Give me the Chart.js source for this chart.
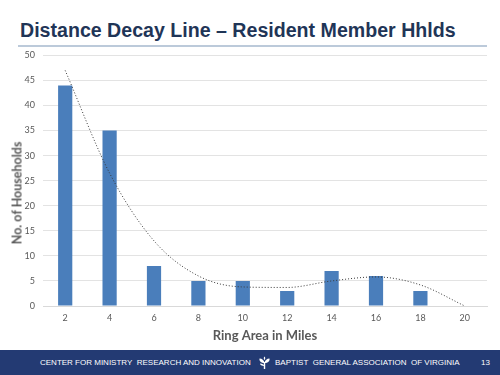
<!DOCTYPE html>
<html>
<head>
<meta charset="utf-8">
<script src="https://cdn.jsdelivr.net/npm/chart.js@4.4.0/dist/chart.umd.min.js"></script>
<style>
  html, body { margin: 0; padding: 0; background: #fff; }
  #page { position: relative; width: 500px; height: 375px; overflow: hidden; }
  #title {
    position: absolute; left: 20px; top: 19px;
    font: bold 19.6px "Liberation Sans", Arial, sans-serif; color: #1f3557;
    white-space: nowrap;
  }
  #rule { position: absolute; left: 18px; top: 45px; width: 469px; height: 2px; background: #bccada; }
  #chartBox { position: absolute; left: 0; top: 42px; width: 500px; height: 302px; }
  #yTitle {
    position: absolute; left: 17px; top: 193px; transform: translate(-50%, -50%) rotate(-90deg);
    font: bold 12.5px Lato, sans-serif; color: #595959; white-space: nowrap;
  }
  #footer {
    position: absolute; left: 0; top: 350px; width: 500px; height: 25px; background: #233a73;
    color: #fff; font: 8px "Liberation Sans", Arial, sans-serif; line-height: 25px;
  }
  #footer span { position: absolute; top: 0; white-space: nowrap; }
</style>
</head>
<body>
<div id="page">
  <div id="title">Distance Decay Line – Resident Member Hhlds</div>
  <div id="rule"></div>
  <div id="chartBox"><canvas id="decayChart" width="500" height="302"></canvas></div>
  <div id="yTitle">No. of Households</div>
  <div id="footer">
    <span style="left:40px">CENTER FOR MINISTRY&nbsp; RESEARCH AND INNOVATION</span>
    <svg style="position:absolute;left:258px;top:6px" width="13" height="14" viewBox="0 0 13 14">
      <path d="M6.5 13 L6.5 6" stroke="#fff" stroke-width="1.4"/>
      <path d="M6.5 7 C3 7 1 5 1.5 2.5 C4 2.5 6 4 6.5 7 Z" fill="#fff"/>
      <path d="M6.5 7 C10 7 12 5 11.5 2.5 C9 2.5 7 4 6.5 7 Z" fill="#fff"/>
      <path d="M6.5 10 C3.5 10 2 9 2 7.5 C4 7.5 6 8.5 6.5 10 Z" fill="#fff"/>
      <path d="M6.5 4 C5.5 3 5.5 1.5 6.5 0.5 C7.5 1.5 7.5 3 6.5 4 Z" fill="#fff"/>
    </svg>
    <span style="left:275px">BAPTIST&nbsp; GENERAL ASSOCIATION&nbsp; OF VIRGINIA</span>
    <span style="left:481px">13</span>
  </div>
</div>
<script>
const ringMiles = ['2', '4', '6', '8', '10', '12', '14', '16', '18', '20'];
const households = [44, 35, 8, 5, 5, 3, 7, 6, 3, null];
const trendLine = [47, 26.5, 13, 6, 3.8, 3.7, 5, 5.8, 4.2, 0];
const yTicks = [0, 5, 10, 15, 20, 25, 30, 35, 40, 45, 50];

const grey = '#595959';

new Chart(document.getElementById('decayChart'), {
    type: 'bar',
    data: {
        labels: ringMiles,
        datasets: [
            {
                type: 'line',
                label: 'Trend',
                data: trendLine,
                borderColor: '#3a3a3a',
                borderWidth: 1,
                borderDash: [1, 2],
                pointRadius: 0,
                fill: false,
                cubicInterpolationMode: 'monotone',
                order: 0
            },
            {
                label: 'Households',
                data: households,
                backgroundColor: '#4a7ebb',
                borderWidth: 0,
                barPercentage: 0.32,
                categoryPercentage: 1,
                order: 1
            }
        ]
    },
    options: {
        responsive: false,
        animation: false,
        layout: { padding: { left: 0, right: 13, top: 0, bottom: 0 } },
        plugins: {
            legend: { display: false },
            tooltip: { enabled: false }
        },
        scales: {
            x: {
                afterFit: scale => { scale.height = 38; },
                grid: { display: false, drawTicks: false },
                border: { color: '#d9d9d9' },
                ticks: { color: grey, font: { family: 'Lato', size: 9 }, padding: 7 },
                title: {
                    display: true, text: 'Ring Area in Miles', color: grey,
                    font: { family: 'Lato', size: 13, weight: 'bold' }, padding: { top: 0, bottom: 0 }
                }
            },
            y: {
                min: 0,
                max: 50,
                afterBuildTicks: scale => { scale.ticks = yTicks.map(v => ({ value: v })); },
                afterFit: scale => { scale.width = 43; },
                grid: { color: '#e3e3e3', drawTicks: false },
                border: { display: false },
                ticks: { color: grey, font: { family: 'Lato', size: 9 }, padding: 8 }
            }
        }
    }
});
</script>
</body>
</html>
